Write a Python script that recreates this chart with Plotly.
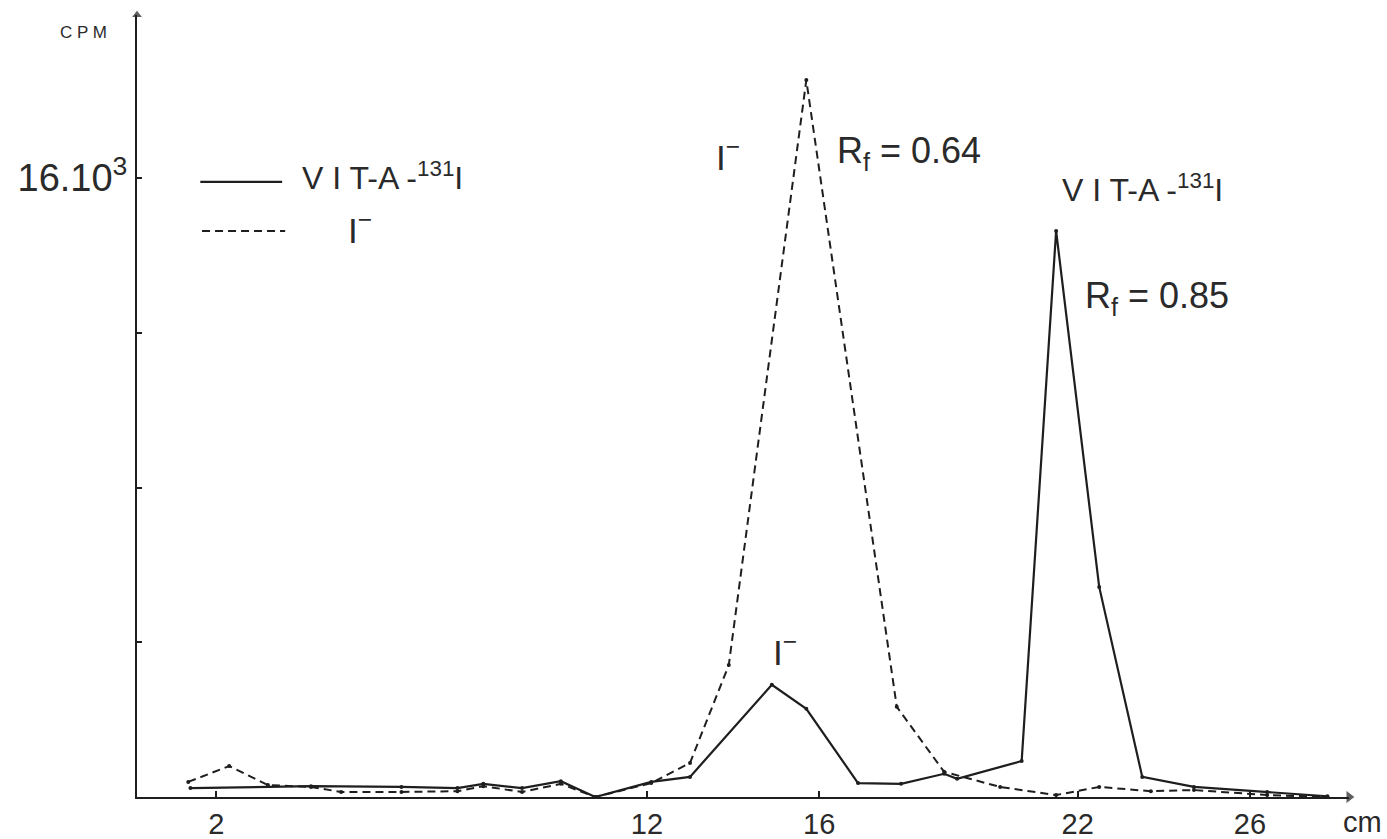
import plotly.graph_objects as go

# ---- data (x in cm, y in CPM) ----
vit_x = [1.4, 4.2, 6.3, 7.6, 8.2, 9.1, 10.0, 10.8, 12.1, 13.0, 14.9, 15.7, 16.9, 17.9,
         18.9, 19.2, 20.7, 21.5, 22.5, 23.5, 24.7, 26.4, 27.8]
vit_y = [230, 280, 260, 230, 340, 230, 410, 0, 390, 520, 2900, 2280, 360, 340,
         600, 470, 930, 14630, 5430, 520, 260, 130, 20]

iod_x = [1.35, 2.3, 3.2, 4.2, 4.9, 6.3, 7.6, 8.2, 9.1, 10.0, 10.8, 12.1, 13.0, 13.9,
         15.7, 17.8, 18.9, 20.2, 21.5, 22.5, 23.7, 24.7, 26.4, 27.8]
iod_y = [390, 800, 310, 260, 130, 130, 150, 280, 130, 340, 0, 360, 880, 3410,
         18530, 2330, 650, 260, 50, 260, 150, 180, 50, 0]

x_ticks = [2, 12, 16, 22, 26]
y_ticks = [16000]
y_ticktext = ["16.10<sup>3</sup>"]
y_minor_ticks = [4000, 8000, 12000]

INK = "#1e1e1e"
TXT = "#2a2a2a"
FONT = "Liberation Sans, Arial, sans-serif"

X0, X1 = 0.16, 28.30
Y0, Y1 = 0, 20213

fig = go.Figure()
fig.add_trace(go.Scatter(x=vit_x, y=vit_y, mode="lines+markers", name="VIT-A-131I",
                         line=dict(color=INK, width=2.2),
                         marker=dict(size=4, color=INK), showlegend=False))
fig.add_trace(go.Scatter(x=iod_x, y=iod_y, mode="lines+markers", name="I-",
                         line=dict(color=INK, width=2, dash="8px,5px"),
                         marker=dict(size=4, color=INK), showlegend=False))
# axis arrow heads at the ends of the axis ranges
fig.add_trace(go.Scatter(x=[X1, X0], y=[Y0, Y1], mode="markers", cliponaxis=False,
                         hoverinfo="skip", showlegend=False,
                         marker=dict(symbol=["triangle-right", "triangle-up"],
                                     size=[12, 10], color=INK)))

ann = []
def txt(x, y, s, size, xanchor="center", xref="x", yref="y"):
    ann.append(dict(x=x, y=y, text=s, xref=xref, yref=yref, showarrow=False,
                    xanchor=xanchor, yanchor="middle",
                    font=dict(family=FONT, size=size, color=TXT)))

txt(13.88, 16600, "I<sup>−</sup>", 35)
txt(18.09, 16650, "R<sub>f</sub> = 0.64", 36)
txt(23.50, 15750, "V I T-A -<sup>131</sup>I", 32)
txt(23.85, 12900, "R<sub>f</sub> = 0.85", 36)
txt(15.21, 3800, "I<sup>−</sup>", 35)
# legend
txt(3.95, 16050, "V I T-A -<sup>131</sup>I", 32, xanchor="left")
txt(5.34, 14700, "I<sup>−</sup>", 35)
# axis titles
txt(-0.044, 0.977, "C P M", 17, xref="paper", yref="paper")
txt(1.011, -0.032, "cm", 29, xref="paper", yref="paper")

shapes = [
    dict(type="line", x0=1.63, x1=3.53, y0=15900, y1=15900, xref="x", yref="y",
         line=dict(color=INK, width=2.2)),
    dict(type="line", x0=1.67, x1=3.60, y0=14630, y1=14630, xref="x", yref="y",
         line=dict(color=INK, width=2, dash="8px,5px")),
]

fig.update_layout(
    width=1387, height=839,
    margin=dict(l=137, r=38, t=15, b=42),
    paper_bgcolor="white", plot_bgcolor="white",
    annotations=ann, shapes=shapes,
    font=dict(family=FONT, color=TXT),
    xaxis=dict(range=[X0, X1], showline=True, linecolor=INK, linewidth=2,
               showgrid=False, zeroline=False, ticks="inside", ticklen=6,
               tickcolor=INK, tickwidth=1.5, tickvals=x_ticks,
               tickfont=dict(family=FONT, size=29, color=TXT), automargin=False),
    yaxis=dict(range=[Y0, Y1], showline=True, linecolor=INK, linewidth=2,
               showgrid=False, zeroline=False, ticks="inside", ticklen=5,
               tickcolor=INK, tickwidth=1.5, tickvals=y_ticks, ticktext=y_ticktext,
               tickfont=dict(family=FONT, size=38, color=TXT), automargin=False,
               minor=dict(tickmode="array", tickvals=y_minor_ticks, ticks="inside",
                          ticklen=5, tickcolor=INK, tickwidth=1.5, showgrid=False)),
)

fig.write_html("out.html")
